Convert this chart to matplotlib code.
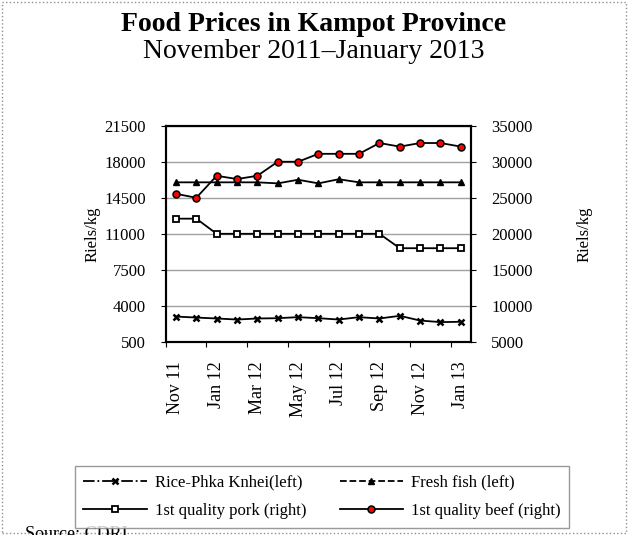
import numpy as np
import matplotlib as mpl
import matplotlib.pyplot as plt
from matplotlib.lines import Line2D
from matplotlib.patches import Rectangle

mpl.rcParams["font.family"] = ["Liberation Serif", "DejaVu Serif"]

months = ["Nov 11", "Dec 11", "Jan 12", "Feb 12", "Mar 12", "Apr 12", "May 12",
          "Jun 12", "Jul 12", "Aug 12", "Sep 12", "Oct 12", "Nov 12", "Dec 12", "Jan 13"]

# left axis (riels/kg)
rice = [2960, 2860, 2770, 2670, 2770, 2800, 2900, 2800, 2670, 2900, 2770, 3030, 2570, 2420, 2450]
fish = [16000, 16000, 16000, 16000, 16000, 15900, 16250, 15900, 16300, 16000, 16000, 16000, 16000, 16000, 16000]
# right axis (riels/kg)
pork = [22100, 22100, 20000, 20000, 20000, 20000, 20000, 20000, 20000, 20000, 20000, 18000, 18000, 18000, 18000]
beef = [25550, 25000, 28050, 27600, 28050, 30000, 30000, 31100, 31100, 31100, 32600, 32100, 32600, 32600, 32100]

left_ticks = [500, 4000, 7500, 11000, 14500, 18000, 21500]
right_ticks = [5000, 10000, 15000, 20000, 25000, 30000, 35000]

x = np.arange(len(months))

fig = plt.figure(figsize=(6.28, 5.35), dpi=100)
ax = fig.add_axes([0.264, 0.361, 0.486, 0.404])
ax2 = ax.twinx()

ax.plot(x, rice, c="black", lw=1.3, marker="x", ms=4, mew=1.8, zorder=3)
ax.plot(x, fish, c="black", lw=1.3, marker="^", ms=5, zorder=3)
ax2.plot(x, pork, c="black", lw=1.3, marker="s", ms=5, mfc="white", mec="black", mew=1.3)
ax2.plot(x, beef, c="black", lw=1.3, marker="o", ms=5, mfc="red", mec="black", mew=1.1)

ax.set_xlim(-0.5, len(months) - 0.5)
ax.set_ylim(left_ticks[0], left_ticks[-1])
ax.set_yticks(left_ticks)
ax2.set_ylim(right_ticks[0], right_ticks[-1])
ax2.set_yticks(right_ticks)
ax.grid(True, axis="y", color="#a0a0a0", lw=1)

# month labels every other category, ticks between categories
ax.set_xticks(x[::2] - 0.5)
ax.set_xticklabels([])
ax.set_xticks(x[::2], minor=True)
ax.set_xticklabels(months[::2], minor=True, rotation=90, fontsize=13)
ax.tick_params(axis="x", which="minor", length=0, pad=14)
ax.tick_params(axis="x", which="major", length=3.5, direction="out")
ax.tick_params(axis="y", labelsize=12, length=3.5, pad=11)
ax2.tick_params(axis="y", labelsize=12, length=3.5, pad=11)

for a in (ax, ax2):
    for s in a.spines.values():
        s.set_linewidth(1.5)

fig.text(0.147, 0.5626, "Riels/kg", rotation=90, ha="center", va="center", fontsize=12)
fig.text(0.9315, 0.5626, "Riels/kg", rotation=90, ha="center", va="center", fontsize=12)

fig.text(0.5, 0.978, "Food Prices in Kampot Province", ha="center", va="top",
         fontsize=20, fontweight="bold")
fig.text(0.5, 0.928, "November 2011\u2013January 2013", ha="center", va="top", fontsize=20)

h_rice = Line2D([], [], c="black", lw=1.3, ls="-.", marker="x", ms=4, mew=1.8)
h_fish = Line2D([], [], c="black", lw=1.3, ls="--", marker="^", ms=5)
h_pork = Line2D([], [], c="black", lw=1.3, marker="s", ms=5, mfc="white", mew=1.3)
h_beef = Line2D([], [], c="black", lw=1.3, marker="o", ms=5, mfc="red", mew=1.1)
# column-major fill, so order gives rows: rice/fish, pork/beef
leg = fig.legend([h_rice, h_pork, h_fish, h_beef],
                 ["Rice-Phka Knhei(left)", "1st quality pork (right)",
                  "Fresh fish (left)", "1st quality beef (right)"],
                 ncol=2, loc="center", bbox_to_anchor=(0.513, 0.071),
                 fontsize=12, frameon=True, fancybox=False, edgecolor="#808080",
                 handlelength=3.8, columnspacing=2.0, labelspacing=0.75,
                 borderpad=0.5, handletextpad=0.5, borderaxespad=0)
leg.get_frame().set_linewidth(1)

fig.text(0.04, 0.016, "Source: CDRI", ha="left", va="top", fontsize=13)

fig.patches.append(Rectangle((0.003, 0.003), 0.994, 0.994, transform=fig.transFigure,
                             fill=False, ls=":", lw=1, ec="#909090"))

fig.savefig("out.png", dpi=100)
